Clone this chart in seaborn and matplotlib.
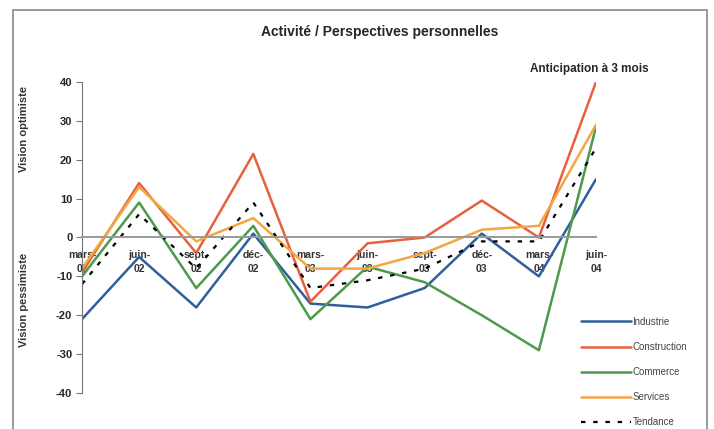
import matplotlib
matplotlib.use("Agg")
import matplotlib.pyplot as plt
from matplotlib.patches import Rectangle
import pandas as pd
import seaborn as sns

# donnees
periodes = ["mars-\n02", "juin-\n02", "sept-\n02", "déc-\n02", "mars-\n03",
            "juin-\n03", "sept-\n03", "déc-\n03", "mars-\n04", "juin-\n04"]
industrie = [-21, -5, -18, 1, -17, -18, -13, 1, -10, 15]
construction = [-9, 14, -4, 21.5, -16.5, -1.5, 0, 9.5, 0, 40]
commerce = [-10, 9, -13, 3, -21, -7.5, -11.5, -20, -29, 28.5]
services = [-8, 13, -1, 5, -8, -8, -4, 2, 3, 29]
tendance = [-12, 6, -8, 9, -13, -11, -8, -1, -1, 23]

series = {"Industrie": industrie, "Construction": construction,
          "Commerce": commerce, "Services": services, "Tendance": tendance}
couleurs = {"Industrie": "#2f5f9c", "Construction": "#e8603c",
            "Commerce": "#4c9a4c", "Services": "#f4a643", "Tendance": "black"}

df = pd.DataFrame(series)
df["x"] = range(len(periodes))
long = df.melt(id_vars="x", var_name="serie", value_name="valeur")

sns.set_style("white")
plt.rcParams["font.family"] = ["Liberation Sans", "DejaVu Sans"]
plt.rcParams["axes.unicode_minus"] = False

fig = plt.figure(figsize=(7.14, 4.29), dpi=100)
ax = fig.add_axes([82 / 714, 1 - 393 / 429, 514 / 714, 311 / 429])

for nom in series:
    sub = long[long["serie"] == nom]
    if nom == "Tendance":
        sns.lineplot(data=sub, x="x", y="valeur", ax=ax, color="black", lw=1.6,
                     label=nom, dashes=False, linestyle=(0, (2, 3.5)))
    else:
        sns.lineplot(data=sub, x="x", y="valeur", ax=ax, color=couleurs[nom],
                     lw=1.8, label=nom)

# axe des x sur la ligne du zero (a faire avant de regler les etiquettes)
ax.spines["top"].set_visible(False)
ax.spines["right"].set_visible(False)
ax.spines["left"].set_color("#777777")
ax.spines["bottom"].set_position(("data", 0))
ax.spines["bottom"].set_color("#999999")
ax.spines["bottom"].set_linewidth(1.4)

ax.set_xlim(0, len(periodes) - 1)
ax.set_ylim(-40, 40)
ax.set_yticks(range(-40, 41, 10))
ax.set_xticks(range(len(periodes)))
ax.set_xticklabels(periodes, fontsize=7.5, fontweight="bold", color="#333333",
                   linespacing=1.45)
ax.tick_params(axis="x", length=0, pad=9)
ax.tick_params(axis="y", left=True, length=4, width=0.8, color="#777777",
               labelsize=8, pad=3)
for lbl in ax.get_yticklabels():
    lbl.set_fontweight("bold")
ax.set_xlabel("")
ax.set_ylabel("")

handles, labels = ax.get_legend_handles_labels()
ax.get_legend().remove()
fig.legend(handles, labels, loc="upper left", bbox_to_anchor=(576 / 714, 1 - 312 / 429),
           frameon=False, fontsize=7, handlelength=5.2, handletextpad=0.1,
           labelspacing=1.55, borderpad=0, labelcolor="#444444")

fig.text(0.532, 0.925, "Activité / Perspectives personnelles", ha="center",
         va="center", fontsize=10, fontweight="bold")
fig.text(0.826, 0.838, "Anticipation à 3 mois", ha="center", va="center",
         fontsize=8.5, fontweight="bold")
fig.text(0.033, 0.70, "Vision optimiste", rotation=90, ha="center", va="center",
         fontsize=8, fontweight="bold", color="#333333")
fig.text(0.033, 0.30, "Vision pessimiste", rotation=90, ha="center", va="center",
         fontsize=8, fontweight="bold", color="#333333")

fig.patches.append(Rectangle((13 / 714, -0.05), 694 / 714, 1.05 - 10 / 429,
                             transform=fig.transFigure, fill=False,
                             edgecolor="#888888", lw=1.2))

fig.savefig("out.png", dpi=100)
